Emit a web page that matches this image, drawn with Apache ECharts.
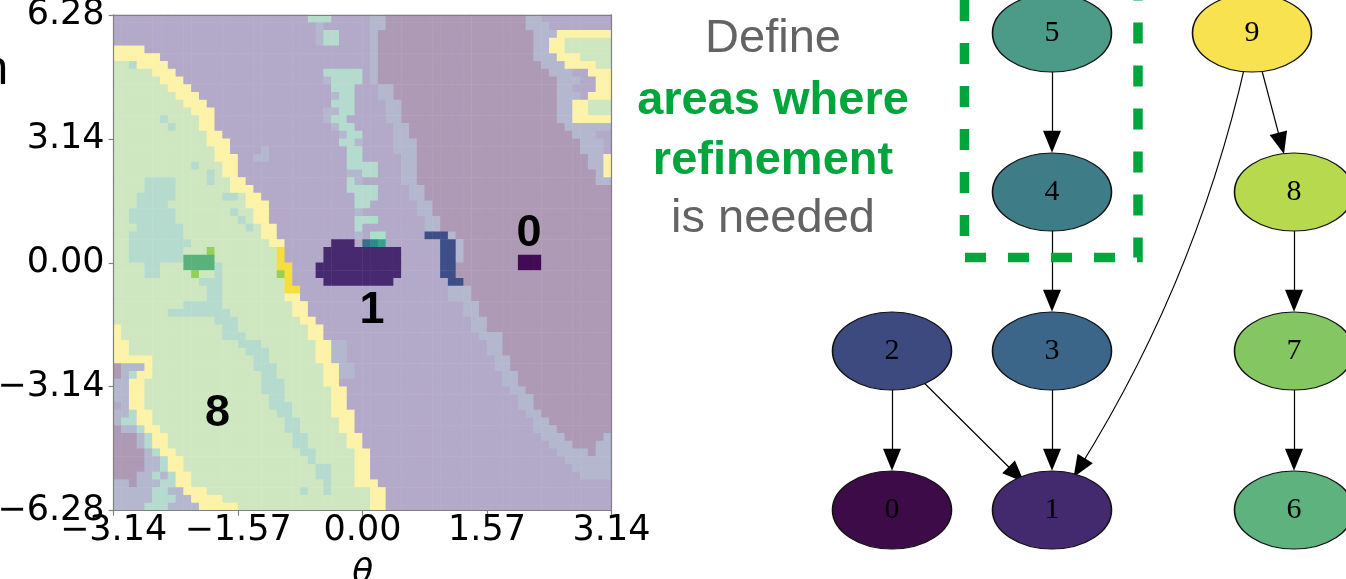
<!DOCTYPE html>
<html>
<head>
<meta charset="utf-8">
<script src="https://cdn.jsdelivr.net/npm/echarts/dist/echarts.min.js"></script>
<style>
  html, body { margin: 0; padding: 0; background: #fff; }
  #chart { width: 1346px; height: 579px; }
</style>
</head>
<body>
<div id="chart"></div>
<script>
// phase-space map, 64 x 64 cells, row 0 = top (omega = 6.28)
// each token "X<col>" = cell code X from that column to the next token
const cellRows = [
  'L0 T25 L28 B33 P35 B53 L55',
  'L0 B26 L27 B33 P35 B53 L56',
  'L0 B26 T27 L29 B33 P34 B54 Y57',
  'L0 B26 T27 L29 B33 P34 B54 Y56 G58',
  'Y0 L4 B33 P34 B54 Y56 G58',
  'Y0 L6 B33 P34 B54 Y57 G60',
  'G0 T2 Y3 L7 B33 P34 B55 Y58 G62',
  'G0 Y5 L8 T27 L32 B33 P34 B56 L59 Y61',
  'G0 Y6 L9 B27 T28 L32 B33 P34 B57 L60 Y62',
  'G0 Y7 L10 T28 L31 B34 P36 B57 L59 Y62',
  'G0 Y8 L11 B28 T29 L31 B34 P36 B57 L60 Y61',
  'G0 Y9 L12 T28 L31 B35 P37 B57 Y59 G61',
  'G0 Y10 L13 B27 T29 L31 B35 P37 B57 Y59 G61',
  'G0 T6 G7 Y11 L13 B27 T28 L30 B35 P37 B57 Y59',
  'G0 T7 G8 Y11 L13 B28 T29 L31 B36 P38 B58',
  'G0 Y12 L14 B29 T30 L32 B36 P38 B59 L62',
  'G0 Y12 L15 T29 B31 L32 B36 P39 B60 L63',
  'G0 Y13 L15 B19 L20 T30 L32 B36 P39 B60 L63',
  'G0 Y13 L16 B18 L20 T30 L32 B37 P39 B61 Y63',
  'G0 T10 G11 Y14 L16 T30 L34 B37 P39 B61 Y63',
  'G0 T12 G13 Y14 L16 B30 T32 L34 B37 P39 B62 Y63',
  'G0 T4 G8 T12 G13 Y15 L17 T30 B31 L32 B37 P39 B62',
  'G0 T4 G8 Y15 L18 T30 L34 B38 P40',
  'G0 T3 G8 T14 G16 Y17 L19 T31 L34 B38 P40',
  'G0 T3 G7 Y17 L20 T31 L33 B39 P41',
  'G0 T2 G8 T15 G16 Y18 L20 B31 L32 B39 P41',
  'G0 T2 G8 T16 G17 Y18 L20 T31 M33 L34 B40 P42',
  'G0 T3 G9 T17 G18 Y19 L21 T31 L32 B40 P42',
  'G0 T2 G9 Y19 L21 B31 L32 M33 L35 N40 B43 P44',
  'G0 T2 G10 Y20 L22 D28 L31 C32 K33 J34 L35 N42 B44 P45',
  'G0 T2 G9 H12 G13 S21 L22 D27 L37 N42 B44 P45',
  'G0 T2 E9 G13 S21 L22 D27 L37 N42 B44 P45 Z52 P55',
  'G0 T4 G6 E9 T13 G14 S21 L23 D26 L37 N42 P44 Z52 P55',
  'G0 T4 G6 H10 G11 T13 G14 H21 S22 L23 D26 L37 N42 P44',
  'G0 T11 G14 S22 L23 D27 L36 N43 P45',
  'G0 T12 G14 S22 L24 B43 P46',
  'G0 T12 G14 Y22 L24 B43 P46',
  'G0 T9 G14 Y23 L25 B45 P47',
  'G0 T7 G15 Y23 L25 B45 P47',
  'G0 T13 G16 Y24 L26 B46 P48',
  'Y0 G1 T14 G16 Y25 L27 B46 P48',
  'Y0 G1 T14 G17 Y25 L27 B47 P50',
  'Y0 G2 T16 G19 Y26 B28 L30 B48 P50',
  'Y0 G2 T17 G20 Y26 B28 L30 B48 P50',
  'Y0 G5 T18 G20 Y26 B28 L30 B49 P51',
  'P0 B1 Y4 G5 T18 G21 Y27 B29 L31 B49 P51',
  'P0 B1 T2 Y3 G5 T19 G21 Y27 B29 L31 B50 P52',
  'B0 Y2 G4 T19 G22 Y27 L29 B50 P52',
  'B0 Y2 G4 T19 G22 Y28 L30 B51 P53',
  'B0 Y2 G4 T20 G22 Y28 L30 B52 P54',
  'L0 B1 Y2 G4 T20 G23 Y28 L30 B52 P54',
  'B0 T2 Y3 G5 T21 G23 Y28 L31 B53 P55',
  'B0 T1 Y3 G5 T22 G24 Y29 L31 B54 P56',
  'P0 B1 T3 Y4 G6 T22 G24 Y29 L31 B54 P57',
  'P0 B3 T4 Y5 G7 T23 G25 Y30 L32 B55 P58 B63',
  'P0 B3 T4 Y5 G7 T23 G25 Y30 L32 B56 P59 B62',
  'P0 B4 T5 Y6 G8 T24 G26 Y31 L33 B57 P61 B62',
  'P0 B4 T6 Y7 G9 T25 G26 Y31 L33 B58',
  'P0 B4 T6 Y7 G9 T26 G28 Y31 L33 B59',
  'P0 B3 T5 B6 T7 Y8 G10 T26 G28 Y31 L33 B60',
  'B0 P2 B3 T6 Y8 G10 T27 G28 Y31 L34',
  'B0 T5 B7 Y9 G12 T24 G25 T27 G28 Y33 L35',
  'B0 T5 B8 Y10 G14 Y33 L35',
  'B0 T4 B7 Y11 G16 Y33 L35'
];
const cellCodes = 'LPGYTBMDNZEHSCKJ';
const cellColors = ['#b3a9c9', '#ae9ab5', '#cfe7c1', '#fdf3a8', '#b5dbcf', '#b4b8cf', '#a8e1c8', '#46296f',
                    '#3e4e88', '#430a55', '#5ab27b', '#93d156', '#f6df3d', '#3b6d8c', '#2d8a8b', '#36a288'];

const thetaTicks = ['\u22123.14', '\u22121.57', '0.00', '1.57', '3.14'];
const omegaTicks = ['\u22126.28', '\u22123.14', '0.00', '3.14', '6.28'];

// [text, theta, omega]
const regionLabels = [['0', 2.10, 0.75], ['1', 0.12, -1.20], ['8', -1.83, -3.83]];

// graph of attractor classes (x in layout units, rank from top)
const nodeNames = ['0', '1', '2', '3', '4', '5', '6', '7', '8', '9'];
const nodeX = [0, 1, 0, 1, 1, 1, 2.5125, 2.5125, 2.5125, 2.25];
const nodeRank = [3, 3, 2, 2, 1, 0, 3, 2, 1, 0];
const nodeColors = ['#3d0c48', '#432a6e', '#3d4a80', '#3c6689', '#3e7d88', '#4b9b88', '#5db27d', '#83c662', '#b7d94d', '#f8e24f'];
const edgeFrom = ['5', '4', '3', '2', '2', '9', '9', '8', '7'];
const edgeTo   = ['4', '3', '1', '0', '1', '1', '8', '7', '6'];
const edgeCurve = [0, 0, 0, 0, 0, 0.1, 0, 0, 0];

// dashed box around nodes 5 and 4: [left, right, top, bottom] in layout units
const refineBox = [0.453, 1.5375, -0.2075, 1.412];

const cells = [];
cellRows.forEach(function (row, r) {
    const toks = row.split(' ').map(function (t) { return [t[0], +t.slice(1)]; });
    toks.forEach(function (t, i) {
        const end = i + 1 < toks.length ? toks[i + 1][1] : 64;
        for (let c = t[1]; c < end; c++) {
            cells.push([c, r, cellCodes.indexOf(t[0])]);
        }
    });
});
const idx64 = Array.from({length: 64}, function (_, i) { return i; });

const ellipse = 'path://M0,50 A50,50 0 1,1 100,50 A50,50 0 1,1 0,50 Z';
const arrowHead = 'path://M0 0M44 44M22 12L31 34L13 34Z';
const spine = {color: '#808080', width: 1.2};
const tickFont = {fontSize: 35, fontFamily: 'DejaVu Sans', color: '#000'};

const option = {
    backgroundColor: '#fff',
    animation: false,
    grid: [
        {left: 113.6, top: 14.8, width: 497.9, height: 495.9, outerBoundsMode: 'none', containLabel: false},
        {left: 892, top: 33, width: 400, height: 477, outerBoundsMode: 'none', containLabel: false}
    ],
    xAxis: [
        {
            type: 'category', gridIndex: 0, position: 'top', data: idx64, z: 10,
            axisLine: {show: true, onZero: false, lineStyle: spine},
            axisTick: {show: false}, axisLabel: {show: false}, splitLine: {show: false}
        },
        {
            type: 'value', gridIndex: 0, position: 'bottom', min: -3.14, max: 3.14, interval: 1.57, z: 10,
            axisLine: {show: true, onZero: false, lineStyle: spine},
            axisTick: {show: true, length: 5, lineStyle: spine},
            axisLabel: Object.assign({
                margin: 3, showMinLabel: true, showMaxLabel: true,
                formatter: function (v, i) { return thetaTicks[i]; }
            }, tickFont),
            splitLine: {show: false},
            name: '\u03b8', nameLocation: 'middle', nameGap: 46,
            nameTextStyle: {fontSize: 34, fontStyle: 'italic', fontFamily: 'DejaVu Sans', color: '#000'}
        },
        {type: 'value', gridIndex: 1, min: 0, max: 2.5, show: false}
    ],
    yAxis: [
        {
            type: 'category', gridIndex: 0, position: 'right', inverse: true, data: idx64, z: 10,
            axisLine: {show: true, onZero: false, lineStyle: spine},
            axisTick: {show: false}, axisLabel: {show: false}, splitLine: {show: false}
        },
        {
            type: 'value', gridIndex: 0, position: 'left', min: -6.28, max: 6.28, interval: 3.14, z: 10,
            axisLine: {show: true, onZero: false, lineStyle: spine},
            axisTick: {show: true, length: 5, lineStyle: spine},
            axisLabel: Object.assign({
                margin: 9, showMinLabel: true, showMaxLabel: true,
                formatter: function (v, i) { return omegaTicks[i]; }
            }, tickFont),
            splitLine: {show: false}
        },
        {type: 'value', gridIndex: 1, min: 0, max: 3, inverse: true, show: false}
    ],
    visualMap: {
        type: 'piecewise', show: false, dimension: 2, seriesIndex: 0,
        pieces: cellColors.map(function (col, i) { return {value: i, color: col}; })
    },
    graphic: [
        {type: 'text', x: -18.5, y: 71, style: {text: 'n', font: '48px "Liberation Sans"', fill: '#000', align: 'left', verticalAlign: 'middle'}},
        {type: 'text', x: 773, y: 39.5, style: {text: 'Define', font: '47px "Liberation Sans"', fill: '#636363', align: 'center', verticalAlign: 'middle'}},
        {type: 'text', x: 773, y: 101.5, style: {text: 'areas where', font: 'bold 47px "Liberation Sans"', fill: '#00a63c', align: 'center', verticalAlign: 'middle'}},
        {type: 'text', x: 773, y: 161.5, style: {text: 'refinement', font: 'bold 47px "Liberation Sans"', fill: '#00a63c', align: 'center', verticalAlign: 'middle'}},
        {type: 'text', x: 773, y: 219.5, style: {text: 'is needed', font: '47px "Liberation Sans"', fill: '#636363', align: 'center', verticalAlign: 'middle'}}
    ],
    series: [
        {
            type: 'heatmap', xAxisIndex: 0, yAxisIndex: 0, data: cells,
            progressive: 0, emphasis: {disabled: true}
        },
        {
            type: 'scatter', xAxisIndex: 1, yAxisIndex: 1, z: 5, symbolSize: 1,
            itemStyle: {color: 'rgba(0,0,0,0)', opacity: 1},
            data: regionLabels.map(function (d) { return {name: d[0], value: [d[1], d[2]]}; }),
            label: {
                show: true, position: 'inside', formatter: '{b}', opacity: 1,
                fontSize: 45, fontWeight: 'bold', fontFamily: 'Liberation Sans', color: '#000'
            }
        },
        {
            type: 'graph', coordinateSystem: 'cartesian2d', xAxisIndex: 2, yAxisIndex: 2, layout: 'none',
            symbol: ellipse, symbolSize: [119, 78],
            itemStyle: {borderColor: '#111', borderWidth: 1.3},
            label: {show: true, position: 'inside', formatter: '{b}', fontSize: 30, fontFamily: 'Liberation Serif', color: '#000'},
            edgeSymbol: ['none', arrowHead], edgeSymbolSize: 44,
            lineStyle: {color: '#000', width: 1.2, opacity: 1},
            emphasis: {disabled: true},
            data: nodeNames.map(function (n, i) {
                return {name: n, value: [nodeX[i], nodeRank[i]], itemStyle: {color: nodeColors[i]}};
            }),
            links: edgeFrom.map(function (s, i) {
                return {source: s, target: edgeTo[i], lineStyle: {curveness: edgeCurve[i]}};
            })
        },
        {
            type: 'lines', coordinateSystem: 'cartesian2d', xAxisIndex: 2, yAxisIndex: 2,
            polyline: true, clip: false, silent: true,
            lineStyle: {color: '#00a63c', width: 9.5, type: [21, 22], opacity: 1},
            data: [{coords: [
                [refineBox[0], refineBox[2]], [refineBox[0], refineBox[3]],
                [refineBox[1], refineBox[3]], [refineBox[1], refineBox[2]]
            ]}]
        }
    ]
};

const chart = echarts.init(document.getElementById('chart'));
chart.setOption(option);
window.addEventListener('resize', function () {
    chart.resize();
});
</script>
</body>
</html>
